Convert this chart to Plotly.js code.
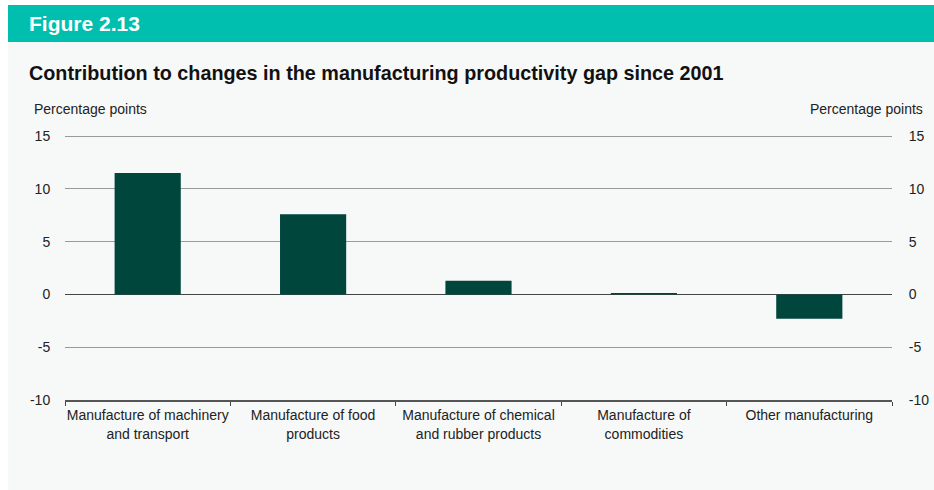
<!DOCTYPE html>
<html>
<head>
<meta charset="utf-8">
<script src="https://cdn.plot.ly/plotly-3.0.1.min.js"></script>
<style>
html,body{margin:0;padding:0;background:#ffffff;}
#chart{width:934px;height:490px;}
</style>
</head>
<body>
<div id="chart"></div>
<script>
const categories = [
  "Manufacture of machinery<br>and transport",
  "Manufacture of food<br>products",
  "Manufacture of chemical<br>and rubber products",
  "Manufacture of<br>commodities",
  "Other manufacturing"
];
const values = [11.5, 7.6, 1.3, 0.15, -2.3];
const yTicks = [-10, -5, 0, 5, 10, 15];

const W = 934, H = 490;
const mL = 65, mR = 42, mT = 133, mB = 90;
const pw = W - mL - mR, ph = H - mT - mB;
const px = x => (x - mL) / pw;
const py = y => (H - mB - y) / ph;

const bars = {
  type: 'bar',
  x: categories,
  y: values,
  marker: {color: '#00463D'},
  width: 0.4,
  hoverinfo: 'skip'
};
// invisible companion so the right-hand axis is drawn
const rightAxisHolder = {
  type: 'scatter',
  mode: 'none',
  x: categories,
  y: values,
  yaxis: 'y2',
  hoverinfo: 'skip',
  showlegend: false
};

const yRange = [-10, 15.3];
const axisY = {
  range: yRange,
  tickvals: yTicks,
  ticktext: yTicks.map(String),
  showgrid: true,
  gridcolor: '#9a9a9a',
  gridwidth: 1,
  zeroline: true,
  zerolinecolor: '#444444',
  zerolinewidth: 1,
  showline: false,
  ticks: 'outside',
  ticklen: 11,
  tickcolor: 'rgba(0,0,0,0)',
  tickfont: {size: 14, color: '#222222'},
  fixedrange: true
};

const layout = {
  width: W, height: H,
  margin: {l: mL, r: mR, t: mT, b: mB, pad: 0},
  paper_bgcolor: '#ffffff',
  plot_bgcolor: 'rgba(0,0,0,0)',
  font: {family: 'Liberation Sans, Arial, sans-serif', size: 14, color: '#222222'},
  showlegend: false,
  bargap: 0.6,
  xaxis: {
    type: 'category',
    tickson: 'boundaries',
    tickangle: 0,
    ticks: 'outside',
    ticklen: 4,
    tickcolor: '#444444',
    showline: true,
    linecolor: '#555555',
    linewidth: 1.5,
    showgrid: false,
    ticklabelstandoff: 2,
    tickfont: {size: 14, color: '#222222'},
    fixedrange: true
  },
  yaxis: axisY,
  yaxis2: Object.assign({}, axisY, {
    overlaying: 'y',
    side: 'right',
    anchor: 'x',
    showgrid: false,
    zeroline: false,
    ticklen: 13
  }),
  shapes: [
    {type: 'rect', xref: 'paper', yref: 'paper', layer: 'below',
     x0: px(8), x1: px(934), y0: py(490), y1: py(42),
     fillcolor: '#F7F9F9', line: {width: 0}},
    {type: 'rect', xref: 'paper', yref: 'paper', layer: 'below',
     x0: px(8), x1: px(934), y0: py(42), y1: py(5),
     fillcolor: '#00BFAE', line: {width: 0}}
  ],
  annotations: [
    {xref: 'paper', yref: 'paper', x: px(27), y: py(23), xanchor: 'left', yanchor: 'middle',
     text: '<b>Figure 2.13</b>', showarrow: false, font: {size: 21, color: '#ffffff'}},
    {xref: 'paper', yref: 'paper', x: px(27), y: py(73), xanchor: 'left', yanchor: 'middle',
     text: '<b>Contribution to changes in the manufacturing productivity gap since 2001</b>',
     showarrow: false, font: {size: 19.8, color: '#111111'}},
    {xref: 'paper', yref: 'paper', x: px(32), y: py(109), xanchor: 'left', yanchor: 'middle',
     text: 'Percentage points', showarrow: false, font: {size: 14, color: '#222222'}},
    {xref: 'paper', yref: 'paper', x: px(925), y: py(109), xanchor: 'right', yanchor: 'middle',
     text: 'Percentage points', showarrow: false, font: {size: 14, color: '#222222'}}
  ]
};

Plotly.newPlot('chart', [bars, rightAxisHolder], layout, {displayModeBar: false, staticPlot: true});
</script>
</body>
</html>
